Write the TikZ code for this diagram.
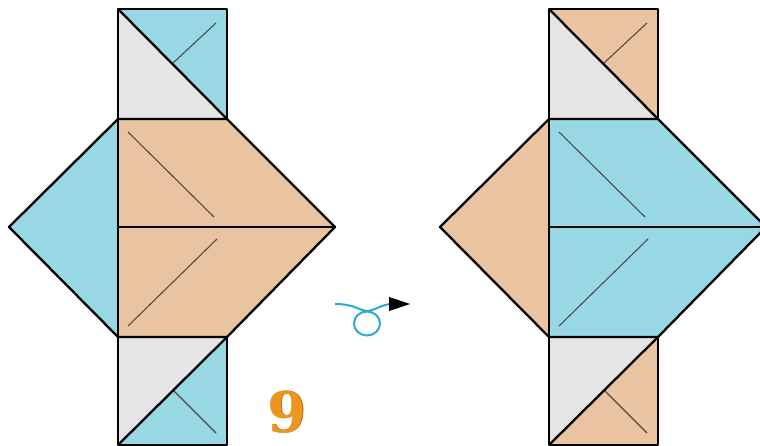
\documentclass[tikz,border=0pt]{standalone}
\usepackage{fontspec}
\newfontfamily\numfont{DejaVu Serif}
\definecolor{pblue}{RGB}{152,216,229}
\definecolor{ptan}{RGB}{234,196,160}
\definecolor{pgray}{RGB}{229,229,229}
\definecolor{arrowblue}{RGB}{45,170,210}
\definecolor{numorange}{RGB}{235,150,30}
\definecolor{numdark}{RGB}{200,110,15}
\tikzset{
  edge/.style={black,line width=2.3pt,line join=round},
  thinedge/.style={black,line width=1.5pt},
  crease/.style={line width=1.1pt,black!70},
}
\newcommand\foldmodel[3]{%
\begin{scope}[xshift=#1]
  % top square
  \fill[pgray] (118,9) -- (118,119) -- (227,119) -- cycle;
  \fill[#2] (118,9) -- (227,9) -- (227,119) -- cycle;
  % left triangle and pentagon
  \fill[#2] (9,227) -- (118,119) -- (118,337) -- cycle;
  \fill[#3] (118,119) -- (227,119) -- (335,227) -- (227,337) -- (118,337) -- cycle;
  % bottom square
  \fill[pgray] (118,337) -- (227,337) -- (118,445) -- cycle;
  \fill[#2] (227,337) -- (227,445) -- (118,445) -- cycle;
  % creases
  \draw[crease] (173,63) -- (216,23);
  \draw[crease] (128,132) -- (214,217);
  \draw[crease] (128,326) -- (217,239);
  \draw[crease] (174,391) -- (216,433);
  % outlines
  \draw[edge] (118,9) rectangle (227,119);
  \draw[edge] (118,9) -- (227,119);
  \draw[edge] (118,119) -- (9,227) -- (118,337);
  \draw[thinedge] (118,119) -- (118,337);
  \draw[edge] (118,119) -- (227,119) -- (335,227) -- (227,337) -- (118,337);
  \draw[edge] (118,227) -- (335,227);
  \draw[edge] (118,337) rectangle (227,445);
  \draw[edge] (118,445) -- (227,337);
\end{scope}}
\begin{document}
\begin{tikzpicture}[x=1pt,y=-1pt]
\useasboundingbox (0,0) rectangle (760,446);
\clip (0,0) rectangle (760,446);
\foldmodel{0pt}{pblue}{ptan}
\foldmodel{431pt}{ptan}{pblue}
% turn-over arrow
\coordinate (a0) at (335,304);
\coordinate (a1) at (367,311);
\coordinate (a2) at (392,304);
\draw[arrowblue,line width=2pt] (a0) .. controls (355,304) and (360,311) .. (a1) .. controls (374,311) and (382,304) .. (a2);
\draw[arrowblue,line width=2pt] (367,323.5) ellipse [x radius=13, y radius=12];
\fill[black] (389,297) -- (410,304) -- (389,311) -- cycle;
% step number
\node[text=numdark,font=\numfont\bfseries\fontsize{56}{56}\selectfont,inner sep=0pt] (numshadow) at (288,412.5) {9};
\node[text=numorange,font=\numfont\bfseries\fontsize{56}{56}\selectfont,inner sep=0pt] (num) at (287,412) {9};
\end{tikzpicture}
\end{document}
